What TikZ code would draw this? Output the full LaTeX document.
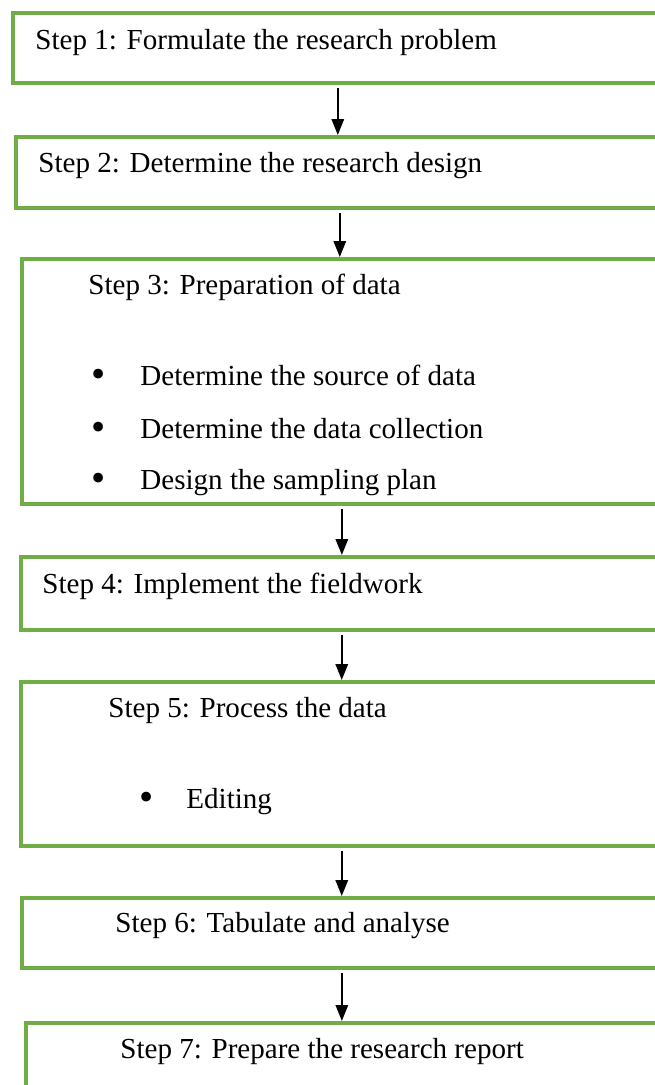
\documentclass[tikz,border=0pt]{standalone}
\usepackage{fontspec}
\setmainfont{Liberation Serif}
\usetikzlibrary{arrows.meta}
\definecolor{boxgreen}{RGB}{112,173,71}

\begin{document}
\begin{tikzpicture}[x=0.444pt, y=-0.444pt,
    stepbox/.style={draw=boxgreen, line width=1.6pt, anchor=north west, inner sep=0pt},
    lbl/.style={anchor=base west, inner sep=0pt, font=\fontsize{12.9}{15}\selectfont},
    dot/.style={anchor=base west, inner sep=0pt, font=\fontsize{18}{18}\selectfont},
    flow/.style={-{Triangle[length=7pt, width=5.4pt]}, line width=0.9pt, shorten <=1.5pt}]
  \useasboundingbox (0,0) rectangle (655,1085);
  \clip (0,0) rectangle (655,1085);

  % Kaesten
  \node[stepbox, minimum width=288.6pt, minimum height=31.1pt] (s1) at (11,11) {};
  \node[stepbox, minimum width=287.7pt, minimum height=31.5pt] (s2) at (14,135) {};
  \node[stepbox, minimum width=284.2pt, minimum height=108.8pt] (s3) at (20,257) {};
  \node[stepbox, minimum width=285.0pt, minimum height=32.4pt] (s4) at (19,555) {};
  \node[stepbox, minimum width=285.0pt, minimum height=72.8pt] (s5) at (19,680) {};
  \node[stepbox, minimum width=284.2pt, minimum height=31.1pt] (s6) at (20,896) {};
  \node[stepbox, minimum width=284.2pt, minimum height=40pt] (s7) at (24,1021) {};

  % Texte
  \node[lbl] (t1) at (35,50) {Step 1: Formulate the research problem};
  \node[lbl] (t2) at (38,172) {Step 2: Determine the research design};
  \node[lbl] (t3) at (88,294) {Step 3: Preparation of data};
  \node[dot] (b31) at (91,387) {\textbullet};
  \node[lbl] (t31) at (140,385) {Determine the source of data};
  \node[dot] (b32) at (91,440) {\textbullet};
  \node[lbl] (t32) at (140,438) {Determine the data collection};
  \node[dot] (b33) at (91,491) {\textbullet};
  \node[lbl] (t33) at (140,489) {Design the sampling plan};
  \node[lbl] (t4) at (42,593) {Step 4: Implement the fieldwork};
  \node[lbl] (t5) at (108,717) {Step 5: Process the data};
  \node[dot] (b51) at (139,810) {\textbullet};
  \node[lbl] (t51) at (186,808) {Editing};
  \node[lbl] (t6) at (115,932) {Step 6: Tabulate and analyse};
  \node[lbl] (t7) at (120,1058) {Step 7: Prepare the research report};

  % Pfeile
  \draw[flow] (s1.south) -- (s1.south |- s2.north);
  \draw[flow] (s2.south) -- (s2.south |- s3.north);
  \draw[flow] (s3.south) -- (s3.south |- s4.north);
  \draw[flow] (s4.south) -- (s4.south |- s5.north);
  \draw[flow] (s5.south) -- (s5.south |- s6.north);
  \draw[flow] (s6.south) -- (s6.south |- s7.north);
\end{tikzpicture}
\end{document}
